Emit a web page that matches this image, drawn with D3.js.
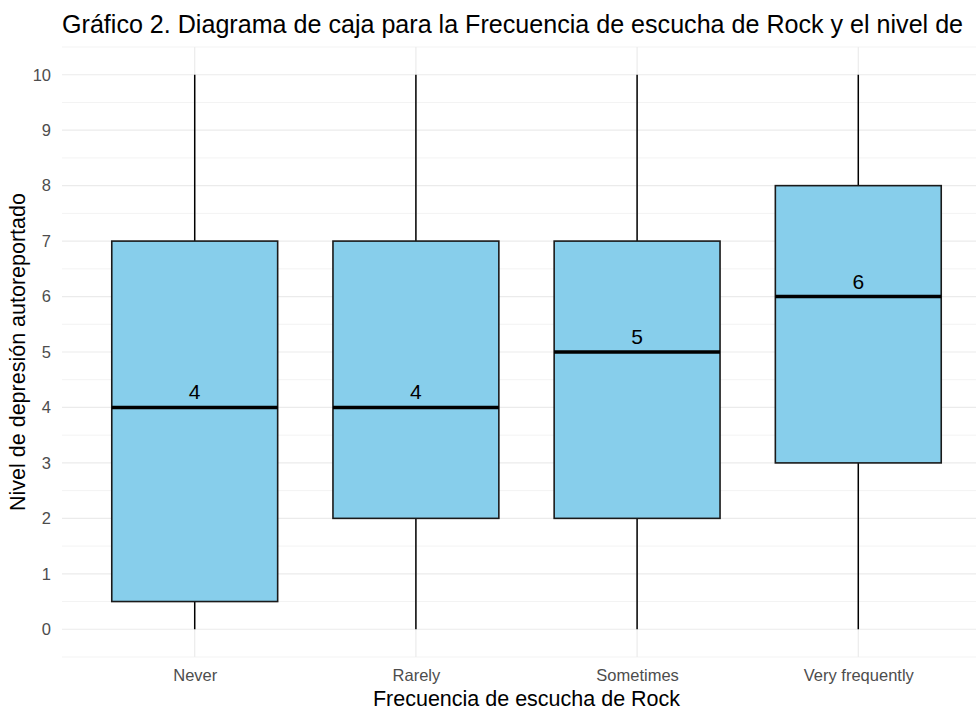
<!DOCTYPE html>
<html><head><meta charset="utf-8">
<script src="https://cdn.jsdelivr.net/npm/d3@7"></script>
<style>
html,body{margin:0;padding:0;background:#fff;overflow:hidden;width:976px;height:720px;}
text{font-family:"Liberation Sans",Arial,sans-serif;}
</style></head>
<body><div id="chart"></div>
<script>
const categories = ["Never","Rarely","Sometimes","Very frequently"];
const mins    = [0, 0, 0, 0];
const q1s     = [0.5, 2, 2, 3];
const medians = [4, 4, 5, 6];
const q3s     = [7, 7, 7, 8];
const maxs    = [10, 10, 10, 10];
const yTicks  = [0,1,2,3,4,5,6,7,8,9,10];
const title = "Gráfico 2. Diagrama de caja para la Frecuencia de escucha de Rock y el nivel de";
const xLabel = "Frecuencia de escucha de Rock";
const yLabel = "Nivel de depresión autoreportado";

const W = 976, H = 720;
const panel = {left: 62, right: 991, top: 47, bottom: 657};

const svg = d3.select("#chart").append("svg").attr("width", W).attr("height", H);

const x = d3.scalePoint().domain(categories)
  .range([panel.left, panel.right]).padding(0.6);
const step = x.step();
const y = d3.scaleLinear().domain([-0.5, 10.5]).range([panel.bottom, panel.top]);

// minor gridlines
const g = svg.append("g");
d3.range(-0.5, 10.6, 1).forEach(v => {
  g.append("line").attr("x1", panel.left).attr("x2", panel.right)
    .attr("y1", y(v)).attr("y2", y(v)).attr("stroke", "#F3F3F3").attr("stroke-width", 1);
});
// major gridlines
g.selectAll(".hy").data(yTicks).join("line")
  .attr("x1", panel.left).attr("x2", panel.right)
  .attr("y1", d => y(d)).attr("y2", d => y(d))
  .attr("stroke", "#EBEBEB").attr("stroke-width", 1.2);
g.selectAll(".vx").data(categories).join("line")
  .attr("x1", d => x(d)).attr("x2", d => x(d))
  .attr("y1", panel.top).attr("y2", panel.bottom)
  .attr("stroke", "#EBEBEB").attr("stroke-width", 1.2);

// axes (labels only)
const yAxis = d3.axisLeft(y).tickValues(yTicks).tickSize(0).tickPadding(11);
const ya = svg.append("g").attr("transform", `translate(${panel.left},0)`).call(yAxis);
ya.select(".domain").remove();
ya.selectAll("text").attr("fill", "#4D4D4D").style("font-size", "16.5px")
  .style("font-family", '"Liberation Sans",Arial,sans-serif');

const xAxis = d3.axisBottom(x).tickSize(0).tickPadding(12);
const xa = svg.append("g").attr("transform", `translate(0,${panel.bottom})`).call(xAxis);
xa.select(".domain").remove();
xa.selectAll("text").attr("fill", "#4D4D4D").style("font-size", "16.5px")
  .style("font-family", '"Liberation Sans",Arial,sans-serif');

// boxes
const data = categories.map((c, i) => ({c, min: mins[i], q1: q1s[i], med: medians[i], q3: q3s[i], max: maxs[i]}));
const bw = step * 0.75;
const bx = svg.append("g");
data.forEach(d => {
  const cx = x(d.c);
  bx.append("line").attr("x1", cx).attr("x2", cx).attr("y1", y(d.max)).attr("y2", y(d.q3))
    .attr("stroke", "#000").attr("stroke-width", 1.5);
  bx.append("line").attr("x1", cx).attr("x2", cx).attr("y1", y(d.q1)).attr("y2", y(d.min))
    .attr("stroke", "#000").attr("stroke-width", 1.5);
  bx.append("rect").attr("x", cx - bw/2).attr("width", bw)
    .attr("y", y(d.q3)).attr("height", y(d.q1) - y(d.q3))
    .attr("fill", "#87CEEB").attr("stroke", "#1a1a1a").attr("stroke-width", 1.6);
  bx.append("line").attr("x1", cx - bw/2).attr("x2", cx + bw/2)
    .attr("y1", y(d.med)).attr("y2", y(d.med))
    .attr("stroke", "#000").attr("stroke-width", 3.4);
  bx.append("text").attr("x", cx).attr("y", y(d.med) - 8)
    .attr("text-anchor", "middle").style("font-size", "21px").attr("fill", "#000")
    .text(d.med);
});

// titles
svg.append("text").attr("x", panel.left).attr("y", 33)
  .style("font-size", "25.1px").attr("fill", "#000").text(title);
svg.append("text").attr("x", (panel.left + panel.right)/2).attr("y", 706)
  .attr("text-anchor", "middle").style("font-size", "21.5px").attr("fill", "#000").text(xLabel);
svg.append("text").attr("transform", `translate(25,${(panel.top+panel.bottom)/2}) rotate(-90)`)
  .attr("text-anchor", "middle").style("font-size", "21.5px").attr("fill", "#000").text(yLabel);
</script></body></html>
